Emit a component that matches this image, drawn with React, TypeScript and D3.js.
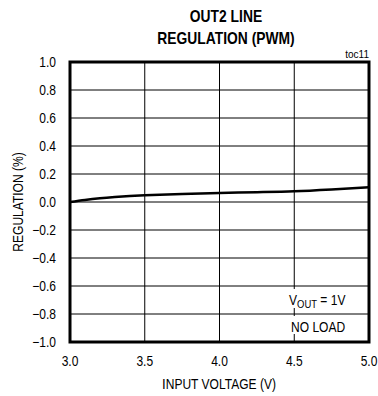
import React from "react";
import * as d3 from "d3";

// Line regulation of OUT2 versus input voltage
const inputVoltage = [3.0, 3.1, 3.2, 3.3, 3.4, 3.5, 3.75, 4.0, 4.25, 4.5, 4.75, 5.0];
const regulation = [0.0, 0.015, 0.027, 0.036, 0.043, 0.048, 0.058, 0.065, 0.07, 0.077, 0.09, 0.106];

const xTicks = [3.0, 3.5, 4.0, 4.5, 5.0];
const yTicks = [1.0, 0.8, 0.6, 0.4, 0.2, 0.0, -0.2, -0.4, -0.6, -0.8, -1.0];

const W = 378;
const H = 396;
const M = { left: 70, right: 9, top: 62, bottom: 54 };

export default function App() {
  const x = d3.scaleLinear().domain([3.0, 5.0]).range([M.left, W - M.right]);
  const y = d3.scaleLinear().domain([-1.0, 1.0]).range([H - M.bottom, M.top]);
  const line = d3
    .line<number>()
    .x((_, i) => x(inputVoltage[i]))
    .y((d) => y(d))
    .curve(d3.curveMonotoneX);

  const font = "'Liberation Sans', Arial, sans-serif";
  const narrow = (cx: number, cy: number, s = 0.86) =>
    `translate(${cx},${cy}) scale(${s},1)`;

  return (
    <svg
      width={W}
      height={H}
      style={{ position: "absolute", left: 0, top: 0, background: "#fff" }}
      fontFamily={font}
    >
      {/* title */}
      <g fontWeight="bold" fontSize={16.5} textAnchor="middle" fill="#000">
        <text transform={narrow(226, 22, 0.84)}>OUT2 LINE</text>
        <text transform={narrow(226, 44, 0.84)}>REGULATION (PWM)</text>
      </g>
      <text x={W - M.right} y={58} fontSize={10} textAnchor="end" fill="#000">
        toc11
      </text>

      {/* grid */}
      <g stroke="#000" strokeWidth={1}>
        {xTicks.slice(1, -1).map((t) => (
          <line key={`gx${t}`} x1={x(t)} x2={x(t)} y1={y(1)} y2={y(-1)} />
        ))}
        {yTicks.slice(1, -1).map((t) => (
          <line key={`gy${t}`} x1={x(3)} x2={x(5)} y1={y(t)} y2={y(t)} />
        ))}
      </g>

      {/* annotation boxes */}
      <rect x={287} y={289} width={64} height={19} fill="#fff" />
      <rect x={289} y={316} width={60} height={18} fill="#fff" />
      <g fontSize={14} fill="#000">
        <text transform={narrow(289, 305)}>
          V<tspan fontSize={11} dy={3}>OUT</tspan>
          <tspan dy={-3}> = 1V</tspan>
        </text>
        <text transform={narrow(291, 332)}>NO LOAD</text>
      </g>

      {/* data */}
      <path d={line(regulation) ?? ""} fill="none" stroke="#000" strokeWidth={2.5} />

      {/* frame */}
      <rect
        x={x(3)}
        y={y(1)}
        width={x(5) - x(3)}
        height={y(-1) - y(1)}
        fill="none"
        stroke="#000"
        strokeWidth={3}
      />

      {/* y tick labels */}
      <g fontSize={14} textAnchor="end" fill="#000">
        {yTicks.map((t) => (
          <text key={`ly${t}`} transform={narrow(56, y(t) + 5)}>
            {d3.format(".1f")(t)}
          </text>
        ))}
      </g>
      {/* x tick labels */}
      <g fontSize={14} textAnchor="middle" fill="#000">
        {xTicks.map((t) => (
          <text key={`lx${t}`} transform={narrow(x(t), 366)}>
            {d3.format(".1f")(t)}
          </text>
        ))}
      </g>

      {/* axis titles */}
      <text transform={narrow(219, 389)} fontSize={14} textAnchor="middle" fill="#000">
        <tspan fontSize={15.5}>I</tspan>NPUT VOLTAGE (V)
      </text>
      <text
        transform={`translate(23,202) rotate(-90) scale(0.86,1)`}
        fontSize={14}
        textAnchor="middle"
        fill="#000"
      >
        REGULATION (%)
      </text>
    </svg>
  );
}
